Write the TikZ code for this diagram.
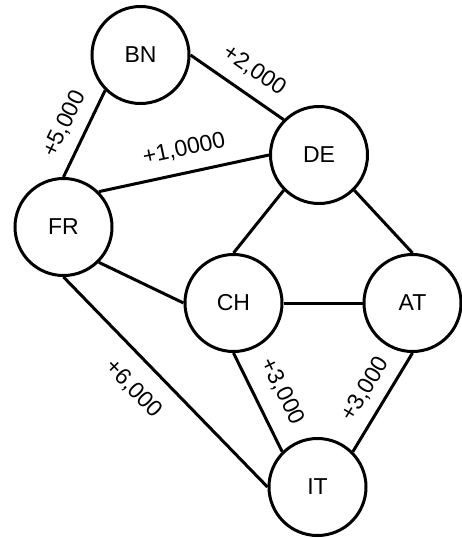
\documentclass[tikz,border=0pt]{standalone}
\usepackage{fontspec}
\setmainfont{Liberation Sans}
\begin{document}
\begin{tikzpicture}[x=1pt,y=-1pt,
  country/.style={circle, draw, line width=3pt, minimum size=97pt, inner sep=0pt,
                  font=\fontsize{23}{23}\selectfont},
  link/.style={line width=3pt},
  cost/.style={sloped, inner sep=0pt, font=\fontsize{23}{23}\selectfont}]
\useasboundingbox (0,0) rectangle (462,538);

% countries
\node[country] (BN) at (140.5,55)  {BN};
\node[country] (DE) at (319,155)   {DE};
\node[country] (FR) at (63.5,227)  {FR};
\node[country] (CH) at (233.5,303) {CH};
\node[country] (AT) at (412.5,303) {AT};
\node[country] (IT) at (317.5,487) {IT};

% links with their costs
\draw[link] (FR.north) -- node[cost, pos=0.50, above=11pt] {+5,000} (BN.south west);
\draw[link] (BN.east) -- node[cost, pos=0.54, above=12.5pt] {+2,000} (DE.north west);
\draw[link] (FR.north east) -- node[cost, pos=0.53, above=12.5pt] {+1,0000} (DE.west);
\draw[link] (DE.south west) -- (CH.north);
\draw[link] (DE.south east) -- (AT.north);
\draw[link] (FR.south east) -- (CH.west);
\draw[link] (CH.east) -- (AT.west);
\draw[link] (FR.south) -- node[cost, pos=0.44, below=16.5pt] {+6,000} (IT.west);
\draw[link] (CH.south) -- node[cost, pos=0.51, above=16pt] {+3,000} (IT.north west);
\draw[link] (IT.north east) -- node[cost, pos=0.52, above=10.5pt] {+3,000} (AT.south);
\end{tikzpicture}
\end{document}
